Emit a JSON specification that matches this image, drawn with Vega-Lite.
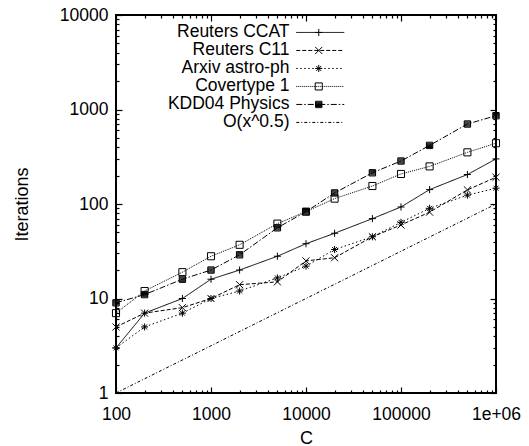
{
  "$schema": "https://vega.github.io/schema/vega-lite/v6.json",
  "width": 380,
  "height": 378,
  "autosize": {"type": "none"},
  "padding": {"left": 116, "top": 15, "right": 33, "bottom": 53},
  "background": "white",
  "data": {
    "values": [
      {"series": "Reuters CCAT", "C": 100, "Iterations": 3},
      {"series": "Reuters CCAT", "C": 200, "Iterations": 7},
      {"series": "Reuters CCAT", "C": 500, "Iterations": 10},
      {"series": "Reuters CCAT", "C": 1000, "Iterations": 16},
      {"series": "Reuters CCAT", "C": 2000, "Iterations": 20},
      {"series": "Reuters CCAT", "C": 5000, "Iterations": 28},
      {"series": "Reuters CCAT", "C": 10000, "Iterations": 38},
      {"series": "Reuters CCAT", "C": 20000, "Iterations": 49},
      {"series": "Reuters CCAT", "C": 50000, "Iterations": 70},
      {"series": "Reuters CCAT", "C": 100000, "Iterations": 93},
      {"series": "Reuters CCAT", "C": 200000, "Iterations": 142},
      {"series": "Reuters CCAT", "C": 500000, "Iterations": 205},
      {"series": "Reuters CCAT", "C": 1000000, "Iterations": 300},
      {"series": "Reuters C11", "C": 100, "Iterations": 5},
      {"series": "Reuters C11", "C": 200, "Iterations": 7},
      {"series": "Reuters C11", "C": 500, "Iterations": 8},
      {"series": "Reuters C11", "C": 1000, "Iterations": 10},
      {"series": "Reuters C11", "C": 2000, "Iterations": 14},
      {"series": "Reuters C11", "C": 5000, "Iterations": 15},
      {"series": "Reuters C11", "C": 10000, "Iterations": 25},
      {"series": "Reuters C11", "C": 20000, "Iterations": 27},
      {"series": "Reuters C11", "C": 50000, "Iterations": 45},
      {"series": "Reuters C11", "C": 100000, "Iterations": 60},
      {"series": "Reuters C11", "C": 200000, "Iterations": 82},
      {"series": "Reuters C11", "C": 500000, "Iterations": 141},
      {"series": "Reuters C11", "C": 1000000, "Iterations": 192},
      {"series": "Arxiv astro-ph", "C": 100, "Iterations": 3},
      {"series": "Arxiv astro-ph", "C": 200, "Iterations": 5},
      {"series": "Arxiv astro-ph", "C": 500, "Iterations": 7},
      {"series": "Arxiv astro-ph", "C": 1000, "Iterations": 10},
      {"series": "Arxiv astro-ph", "C": 2000, "Iterations": 12},
      {"series": "Arxiv astro-ph", "C": 5000, "Iterations": 16.5},
      {"series": "Arxiv astro-ph", "C": 10000, "Iterations": 22},
      {"series": "Arxiv astro-ph", "C": 20000, "Iterations": 33},
      {"series": "Arxiv astro-ph", "C": 50000, "Iterations": 45},
      {"series": "Arxiv astro-ph", "C": 100000, "Iterations": 64},
      {"series": "Arxiv astro-ph", "C": 200000, "Iterations": 90},
      {"series": "Arxiv astro-ph", "C": 500000, "Iterations": 124},
      {"series": "Arxiv astro-ph", "C": 1000000, "Iterations": 147},
      {"series": "Covertype 1", "C": 100, "Iterations": 7},
      {"series": "Covertype 1", "C": 200, "Iterations": 12},
      {"series": "Covertype 1", "C": 500, "Iterations": 19},
      {"series": "Covertype 1", "C": 1000, "Iterations": 28},
      {"series": "Covertype 1", "C": 2000, "Iterations": 37},
      {"series": "Covertype 1", "C": 5000, "Iterations": 62},
      {"series": "Covertype 1", "C": 10000, "Iterations": 83},
      {"series": "Covertype 1", "C": 20000, "Iterations": 114},
      {"series": "Covertype 1", "C": 50000, "Iterations": 155},
      {"series": "Covertype 1", "C": 100000, "Iterations": 208},
      {"series": "Covertype 1", "C": 200000, "Iterations": 250},
      {"series": "Covertype 1", "C": 500000, "Iterations": 352},
      {"series": "Covertype 1", "C": 1000000, "Iterations": 440},
      {"series": "KDD04 Physics", "C": 100, "Iterations": 9},
      {"series": "KDD04 Physics", "C": 200, "Iterations": 11},
      {"series": "KDD04 Physics", "C": 500, "Iterations": 16},
      {"series": "KDD04 Physics", "C": 1000, "Iterations": 20},
      {"series": "KDD04 Physics", "C": 2000, "Iterations": 29},
      {"series": "KDD04 Physics", "C": 5000, "Iterations": 56},
      {"series": "KDD04 Physics", "C": 10000, "Iterations": 83},
      {"series": "KDD04 Physics", "C": 20000, "Iterations": 131},
      {"series": "KDD04 Physics", "C": 50000, "Iterations": 214},
      {"series": "KDD04 Physics", "C": 100000, "Iterations": 285},
      {"series": "KDD04 Physics", "C": 200000, "Iterations": 417},
      {"series": "KDD04 Physics", "C": 500000, "Iterations": 702},
      {"series": "KDD04 Physics", "C": 1000000, "Iterations": 860},
      {"series": "O(x^0.5)", "C": 100, "Iterations": 1},
      {"series": "O(x^0.5)", "C": 1000000, "Iterations": 100}
    ]
  },
  "layer": [
    {
      "mark": {"type": "line", "color": "black", "strokeWidth": 1},
      "encoding": {
        "x": {
          "field": "C", "type": "quantitative",
          "scale": {"type": "log", "domain": [100, 1000000], "nice": false},
          "axis": {
            "orient": "bottom",
            "values": [100,200,300,400,500,600,700,800,900,1000,2000,3000,4000,5000,6000,7000,8000,9000,10000,20000,30000,40000,50000,60000,70000,80000,90000,100000,200000,300000,400000,500000,600000,700000,800000,900000,1000000],
            "format": "d",
            "labelExpr": "datum.value == 1000000 ? '1e+06' : (indexof([100,1000,10000,100000], datum.value) >= 0 ? datum.label : '')",
            "tickSize": {"condition": {"test": "indexof([100,1000,10000,100000,1000000], datum.value) >= 0", "value": -6}, "value": -3},
            "labelPadding": 18,
            "title": "C",
            "titleX": 190,
            "titleY": 50,
            "titleBaseline": "alphabetic",
            "titleAlign": "center"
          }
        },
        "y": {
          "field": "Iterations", "type": "quantitative",
          "scale": {"type": "log", "domain": [1, 10000], "nice": false},
          "axis": {
            "orient": "left",
            "values": [1,2,3,4,5,6,7,8,9,10,20,30,40,50,60,70,80,90,100,200,300,400,500,600,700,800,900,1000,2000,3000,4000,5000,6000,7000,8000,9000,10000],
            "format": "d",
            "labelExpr": "indexof([1,10,100,1000,10000], datum.value) >= 0 ? datum.label : ''",
            "tickSize": {"condition": {"test": "indexof([1,10,100,1000,10000], datum.value) >= 0", "value": -6}, "value": -3},
            "labelPadding": 14,
            "title": "Iterations",
            "titleX": -89,
            "titleY": 189,
            "titleAngle": -90,
            "titleBaseline": "alphabetic",
            "titleAlign": "center"
          }
        },
        "strokeDash": {
          "field": "series", "type": "nominal",
          "scale": {
            "domain": ["Reuters CCAT", "Reuters C11", "Arxiv astro-ph", "Covertype 1", "KDD04 Physics", "O(x^0.5)"],
            "range": [[1, 0], [4, 2], [1.5, 2.5], [1, 1], [6, 2, 1.5, 2], [3, 2, 1, 2]]
          },
          "legend": {
            "title": null,
            "orient": "none",
            "legendX": 195.5,
            "legendY": 8.7,
            "symbolType": "M-12,0L12,0",
            "symbolSize": 16,
            "symbolStrokeWidth": 1,
            "symbolStrokeColor": "black",
            "labelAlign": "right",
            "labelOffset": -39.5,
            "labelLimit": 300,
            "rowPadding": -1.4,
            "padding": 0
          }
        }
      }
    },
    {
      "transform": [{"filter": "datum.series != 'O(x^0.5)'"}],
      "mark": {"type": "point", "color": "black", "filled": false, "strokeWidth": 1, "opacity": 1, "size": 50},
      "encoding": {
        "x": {
          "field": "C", "type": "quantitative",
          "axis": {
            "orient": "top",
            "values": [100,200,300,400,500,600,700,800,900,1000,2000,3000,4000,5000,6000,7000,8000,9000,10000,20000,30000,40000,50000,60000,70000,80000,90000,100000,200000,300000,400000,500000,600000,700000,800000,900000,1000000],
            "labels": false,
            "title": null,
            "tickSize": {"condition": {"test": "indexof([100,1000,10000,100000,1000000], datum.value) >= 0", "value": -6}, "value": -3}
          }
        },
        "y": {
          "field": "Iterations", "type": "quantitative",
          "axis": {
            "orient": "right",
            "values": [1,2,3,4,5,6,7,8,9,10,20,30,40,50,60,70,80,90,100,200,300,400,500,600,700,800,900,1000,2000,3000,4000,5000,6000,7000,8000,9000,10000],
            "labels": false,
            "title": null,
            "tickSize": {"condition": {"test": "indexof([1,10,100,1000,10000], datum.value) >= 0", "value": -6}, "value": -3}
          }
        },
        "shape": {
          "field": "series", "type": "nominal",
          "scale": {
            "domain": ["Reuters CCAT", "Reuters C11", "Arxiv astro-ph", "Covertype 1", "KDD04 Physics"],
            "range": [
              "M-1,0L1,0M0,-1L0,1",
              "M-1,-1L1,1M-1,1L1,-1",
              "M-1,0L1,0M0,-1L0,1M-0.7,-0.7L0.7,0.7M-0.7,0.7L0.7,-0.7",
              "square",
              "M-0.9,-0.9H0.9V0.9H-0.9ZM-0.9,-0.6H0.9M-0.9,-0.3H0.9M-0.9,0H0.9M-0.9,0.3H0.9M-0.9,0.6H0.9"
            ]
          },
          "legend": {
            "title": null,
            "orient": "none",
            "legendX": 194,
            "legendY": 8.7,
            "symbolSize": 50,
            "symbolStrokeColor": "black",
            "symbolStrokeWidth": 1,
            "labelExpr": "''",
            "labelAlign": "right",
            "labelOffset": -20,
            "rowPadding": -1.4,
            "padding": 0
          }
        }
      }
    }
  ],
  "resolve": {"axis": {"x": "independent", "y": "independent"}},
  "config": {
    "font": "Liberation Sans",
    "view": {"stroke": "black", "strokeWidth": 2},
    "axis": {
      "domain": false,
      "grid": false,
      "tickColor": "black",
      "tickWidth": 1.2,
      "labelColor": "black",
      "labelFont": "Liberation Sans",
      "labelFontSize": 17.5,
      "labelOverlap": false,
      "labelFlush": false,
      "labelBound": false,
      "titleColor": "black",
      "titleFont": "Liberation Sans",
      "titleFontSize": 18,
      "titleFontWeight": "normal"
    },
    "legend": {
      "labelColor": "black",
      "labelFont": "Liberation Sans",
      "labelFontSize": 17.5
    }
  }
}
